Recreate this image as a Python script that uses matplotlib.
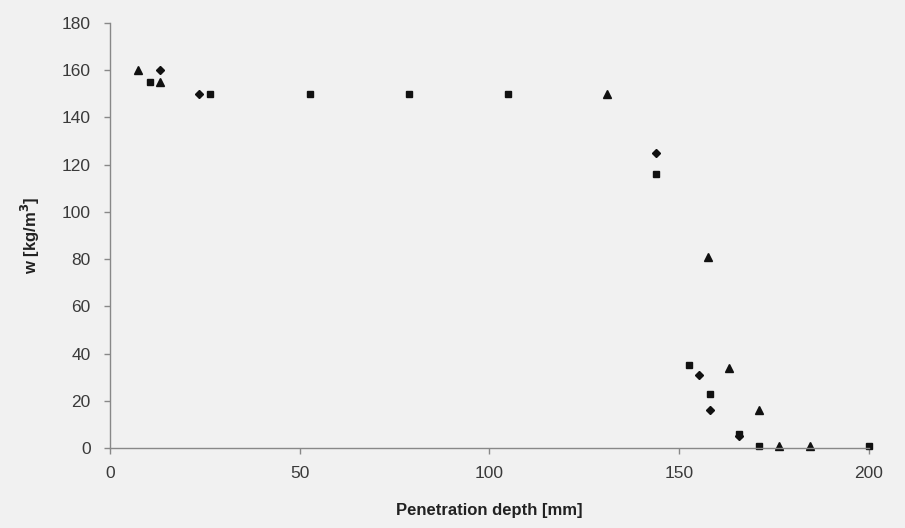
import matplotlib.pyplot as plt

plt.rcParams['font.family'] = ['Liberation Sans', 'DejaVu Sans']

# data
tri_x = [7.5, 13.3, 131.0, 157.7, 163.2, 171.0, 176.3, 184.5]
tri_y = [160, 155, 150, 81, 34, 16, 1, 1]

sq_x = [10.5, 26.4, 52.6, 78.8, 104.8, 144.0, 152.6, 158.0, 165.8, 171.0, 200.0]
sq_y = [155, 150, 150, 150, 150, 116, 35, 23, 6, 1, 1]

dia_x = [13.2, 23.5, 144.0, 155.3, 158.0, 165.8]
dia_y = [160, 150, 125, 31, 16, 5]

bg = "#f1f1f1"
fig = plt.figure(figsize=(9.05, 5.28), dpi=100, facecolor=bg)
ax = fig.add_axes([0.1215, 0.1515, 0.8387, 0.805])
ax.set_facecolor(bg)

ax.plot(sq_x, sq_y, linestyle="none", marker="s", markersize=5, color="#111111", clip_on=False)
ax.plot(dia_x, dia_y, linestyle="none", marker="D", markersize=4.5, color="#111111", clip_on=False)
ax.plot(tri_x, tri_y, linestyle="none", marker="^", markersize=5.5, color="#111111", clip_on=False)

ax.set_xlim(0, 200)
ax.set_ylim(0, 180)
ax.set_xticks([0, 50, 100, 150, 200])
ax.set_yticks(range(0, 181, 20))

for s in ["top", "right"]:
    ax.spines[s].set_visible(False)
for s in ["left", "bottom"]:
    ax.spines[s].set_color("#888888")
    ax.spines[s].set_linewidth(1.0)

ax.tick_params(axis="both", colors="#888888", labelcolor="#3a3a3a",
               labelsize=12.5, length=4, width=1)
ax.tick_params(axis="x", pad=9)
ax.tick_params(axis="y", pad=10)

ax.set_xlabel("Penetration depth [mm]", fontsize=12, fontweight="bold",
              color="#222222", labelpad=16)
ax.set_ylabel("w [kg/m$^\\mathbf{3}$]", fontsize=12, fontweight="bold",
              color="#222222", labelpad=14)

fig.savefig("out.png", dpi=100, facecolor=bg)
